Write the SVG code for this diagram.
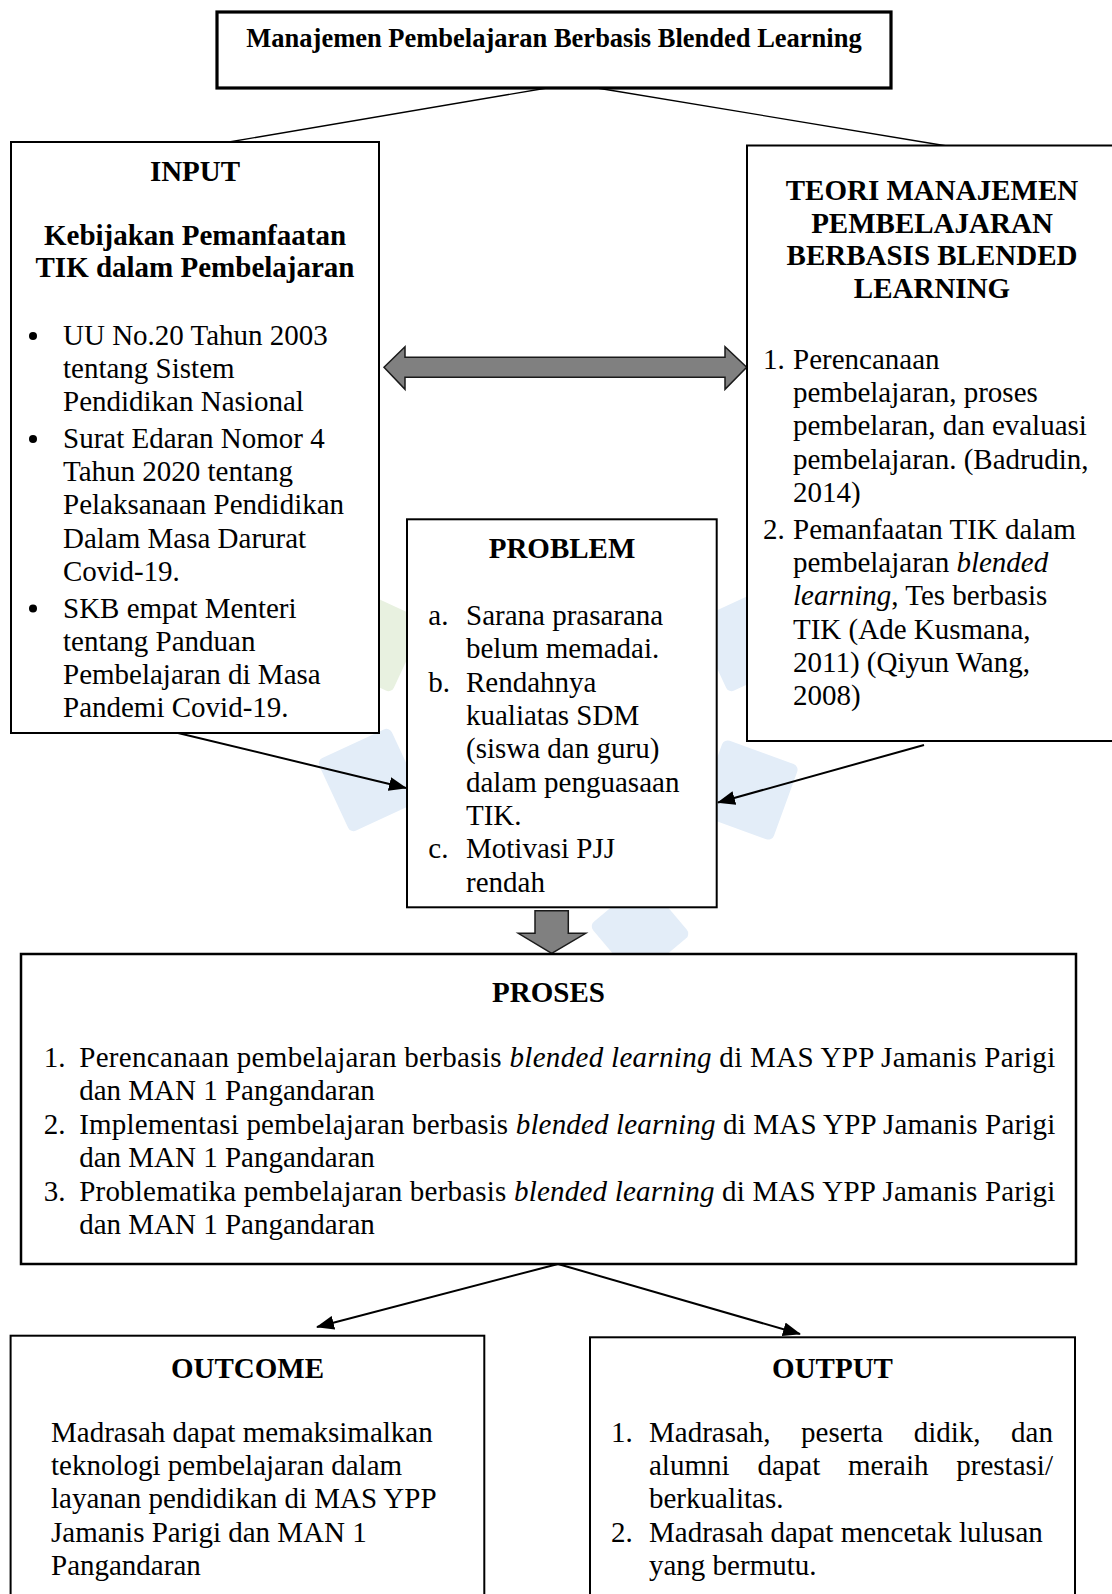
<svg xmlns="http://www.w3.org/2000/svg" width="1112" height="1594" viewBox="0 0 1112 1594">
<defs>
<style>
text{font-family:"Liberation Serif","Times New Roman",serif;fill:#000;}
.h{font-weight:bold;font-size:29px;text-anchor:middle;}
.t{font-size:29px;}
.i{font-style:italic;}
.box{fill:#fff;stroke:#000;stroke-width:2;}
.con{stroke:#000;stroke-width:2;fill:none;}
.thin{stroke:#000;stroke-width:1.3;fill:none;}
.big{fill:#808080;stroke:#1a1a1a;stroke-width:1.5;stroke-linejoin:miter;}
.wm{fill:#e3edf8;}
.wg{fill:#e8f1e0;}
</style>
<marker id="ah" viewBox="0 0 18 14" refX="17" refY="7" markerWidth="18" markerHeight="14" markerUnits="userSpaceOnUse" orient="auto">
<path d="M0,0 L18,7 L0,14 Z" fill="#000"/>
</marker>
</defs>
<rect width="1112" height="1594" fill="#fff"/>

<g id="watermark">
<rect class="wg" x="-40" y="-40" width="80" height="80" rx="6" transform="translate(372 640) rotate(25)"/>
<rect class="wm" x="-40" y="-40" width="80" height="80" rx="6" transform="translate(370 780) rotate(65)"/>
<rect class="wm" x="-40" y="-40" width="80" height="80" rx="6" transform="translate(748 640) rotate(-25)"/>
<rect class="wm" x="-40" y="-40" width="80" height="80" rx="6" transform="translate(748 790) rotate(20)"/>
<rect class="wm" x="-36" y="-36" width="72" height="72" rx="6" transform="translate(640 930) rotate(-40)"/>
</g>

<g id="connectors">
<line class="thin" x1="547" y1="88" x2="223" y2="143"/>
<line class="thin" x1="597" y1="88" x2="947" y2="146"/>
<line class="con" x1="178" y1="733" x2="406" y2="788" marker-end="url(#ah)"/>
<line class="con" x1="924" y1="745" x2="718" y2="802.5" marker-end="url(#ah)"/>
<line class="con" x1="558" y1="1264" x2="317" y2="1327" marker-end="url(#ah)"/>
<line class="con" x1="558" y1="1264" x2="800" y2="1334" marker-end="url(#ah)"/>
<polygon id="double-arrow" class="big" points="384,367.3 405,346.7 405,357.3 725,357.3 725,346.7 746.7,367.3 725,389.3 725,377.3 405,377.3 405,389.3"/>
<polygon id="down-arrow" class="big" points="535,910.7 568.3,910.7 568.3,933.3 585.7,933.3 551.7,953.3 518.3,933.3 535,933.3"/>
</g>

<g id="title">
<rect x="217" y="12" width="674" height="76" fill="#fff" stroke="#000" stroke-width="3.2"/>
<text x="554" y="47" font-weight="bold" font-size="26.5" text-anchor="middle">Manajemen Pembelajaran Berbasis Blended Learning</text>
</g>

<g id="input">
<rect class="box" x="11" y="142" width="368" height="591"/>
<text class="h" x="195" y="181">INPUT</text>
<text class="h" x="195" y="244.5">Kebijakan Pemanfaatan</text>
<text class="h" x="195" y="277">TIK dalam Pembelajaran</text>
<circle cx="33" cy="336" r="4"/>
<circle cx="33" cy="439" r="4"/>
<circle cx="33" cy="608.6" r="4"/>
<text class="t" x="63" y="345">UU No.20 Tahun 2003</text>
<text class="t" x="63" y="378.2">tentang Sistem</text>
<text class="t" x="63" y="411.4">Pendidikan Nasional</text>
<text class="t" x="63" y="448">Surat Edaran Nomor 4</text>
<text class="t" x="63" y="481.2">Tahun 2020 tentang</text>
<text class="t" x="63" y="514.4">Pelaksanaan Pendidikan</text>
<text class="t" x="63" y="547.6">Dalam Masa Darurat</text>
<text class="t" x="63" y="580.8">Covid-19.</text>
<text class="t" x="63" y="617.6">SKB empat Menteri</text>
<text class="t" x="63" y="650.8">tentang Panduan</text>
<text class="t" x="63" y="684">Pembelajaran di Masa</text>
<text class="t" x="63" y="717.2">Pandemi Covid-19.</text>
</g>

<g id="teori">
<rect class="box" x="747" y="145.5" width="380" height="595.5"/>
<text class="h" x="932" y="200">TEORI MANAJEMEN</text>
<text class="h" x="932" y="232.6">PEMBELAJARAN</text>
<text class="h" x="932" y="265.2">BERBASIS BLENDED</text>
<text class="h" x="932" y="297.8">LEARNING</text>
<text class="t" x="763" y="369">1.</text>
<text class="t" x="793" y="369">Perencanaan</text>
<text class="t" x="793" y="402.2">pembelajaran, proses</text>
<text class="t" x="793" y="435.4">pembelaran, dan evaluasi</text>
<text class="t" x="793" y="468.6">pembelajaran. (Badrudin,</text>
<text class="t" x="793" y="501.8">2014)</text>
<text class="t" x="763" y="539">2.</text>
<text class="t" x="793" y="539">Pemanfaatan TIK dalam</text>
<text class="t" x="793" y="572.2">pembelajaran <tspan class="i">blended</tspan></text>
<text class="t" x="793" y="605.4"><tspan class="i">learning</tspan>, Tes berbasis</text>
<text class="t" x="793" y="638.6">TIK (Ade Kusmana,</text>
<text class="t" x="793" y="671.8">2011) (Qiyun Wang,</text>
<text class="t" x="793" y="705">2008)</text>
</g>

<g id="problem">
<rect class="box" x="407" y="519.3" width="309.7" height="388"/>
<text class="h" x="562" y="558.3">PROBLEM</text>
<text class="t" x="428.3" y="625">a.</text>
<text class="t" x="466" y="625">Sarana prasarana</text>
<text class="t" x="466" y="658">belum memadai.</text>
<text class="t" x="428.3" y="691.5">b.</text>
<text class="t" x="466" y="691.5">Rendahnya</text>
<text class="t" x="466" y="725">kualiatas SDM</text>
<text class="t" x="466" y="758.3">(siswa dan guru)</text>
<text class="t" x="466" y="791.7">dalam penguasaan</text>
<text class="t" x="466" y="825">TIK.</text>
<text class="t" x="428.3" y="858.3">c.</text>
<text class="t" x="466" y="858.3">Motivasi PJJ</text>
<text class="t" x="466" y="891.7">rendah</text>
</g>

<g id="proses">
<rect x="21" y="954" width="1055" height="310" fill="#fff" stroke="#000" stroke-width="2.5"/>
<text class="h" x="548.5" y="1001.8">PROSES</text>
<text class="t" x="43.7" y="1067">1.</text>
<text class="t" x="79.2" y="1067" textLength="976" lengthAdjust="spacing">Perencanaan pembelajaran berbasis <tspan class="i">blended learning</tspan> di MAS YPP Jamanis Parigi</text>
<text class="t" x="79.2" y="1100.3">dan MAN 1 Pangandaran</text>
<text class="t" x="43.7" y="1133.7">2.</text>
<text class="t" x="79.2" y="1133.7" textLength="976" lengthAdjust="spacing">Implementasi pembelajaran berbasis <tspan class="i">blended learning</tspan> di MAS YPP Jamanis Parigi</text>
<text class="t" x="79.2" y="1167">dan MAN 1 Pangandaran</text>
<text class="t" x="43.7" y="1200.5">3.</text>
<text class="t" x="79.2" y="1200.5" textLength="976" lengthAdjust="spacing">Problematika pembelajaran berbasis <tspan class="i">blended learning</tspan> di MAS YPP Jamanis Parigi</text>
<text class="t" x="79.2" y="1234">dan MAN 1 Pangandaran</text>
</g>

<g id="outcome">
<rect class="box" x="10.6" y="1335.7" width="473.7" height="300"/>
<text class="h" x="247.5" y="1378.3">OUTCOME</text>
<text class="t" x="51" y="1441.7">Madrasah dapat memaksimalkan</text>
<text class="t" x="51" y="1475">teknologi pembelajaran dalam</text>
<text class="t" x="51" y="1508.3">layanan pendidikan di MAS YPP</text>
<text class="t" x="51" y="1541.7">Jamanis Parigi dan MAN 1</text>
<text class="t" x="51" y="1575">Pangandaran</text>
</g>

<g id="output">
<rect class="box" x="590" y="1337.3" width="485" height="300"/>
<text class="h" x="832.5" y="1378.3">OUTPUT</text>
<text class="t" x="611" y="1441.7">1.</text>
<text class="t" y="1441.7"><tspan x="649">Madrasah,</tspan><tspan x="801.1">peserta</tspan><tspan x="913.7">didik,</tspan><tspan x="1011.1">dan</tspan></text>
<text class="t" y="1475"><tspan x="649">alumni</tspan><tspan x="757.4">dapat</tspan><tspan x="848">meraih</tspan><tspan x="956.3">prestasi/</tspan></text>
<text class="t" x="649" y="1508.3">berkualitas.</text>
<text class="t" x="611" y="1541.7">2.</text>
<text class="t" x="649" y="1541.7">Madrasah dapat mencetak lulusan</text>
<text class="t" x="649" y="1575">yang bermutu.</text>
</g>
</svg>
